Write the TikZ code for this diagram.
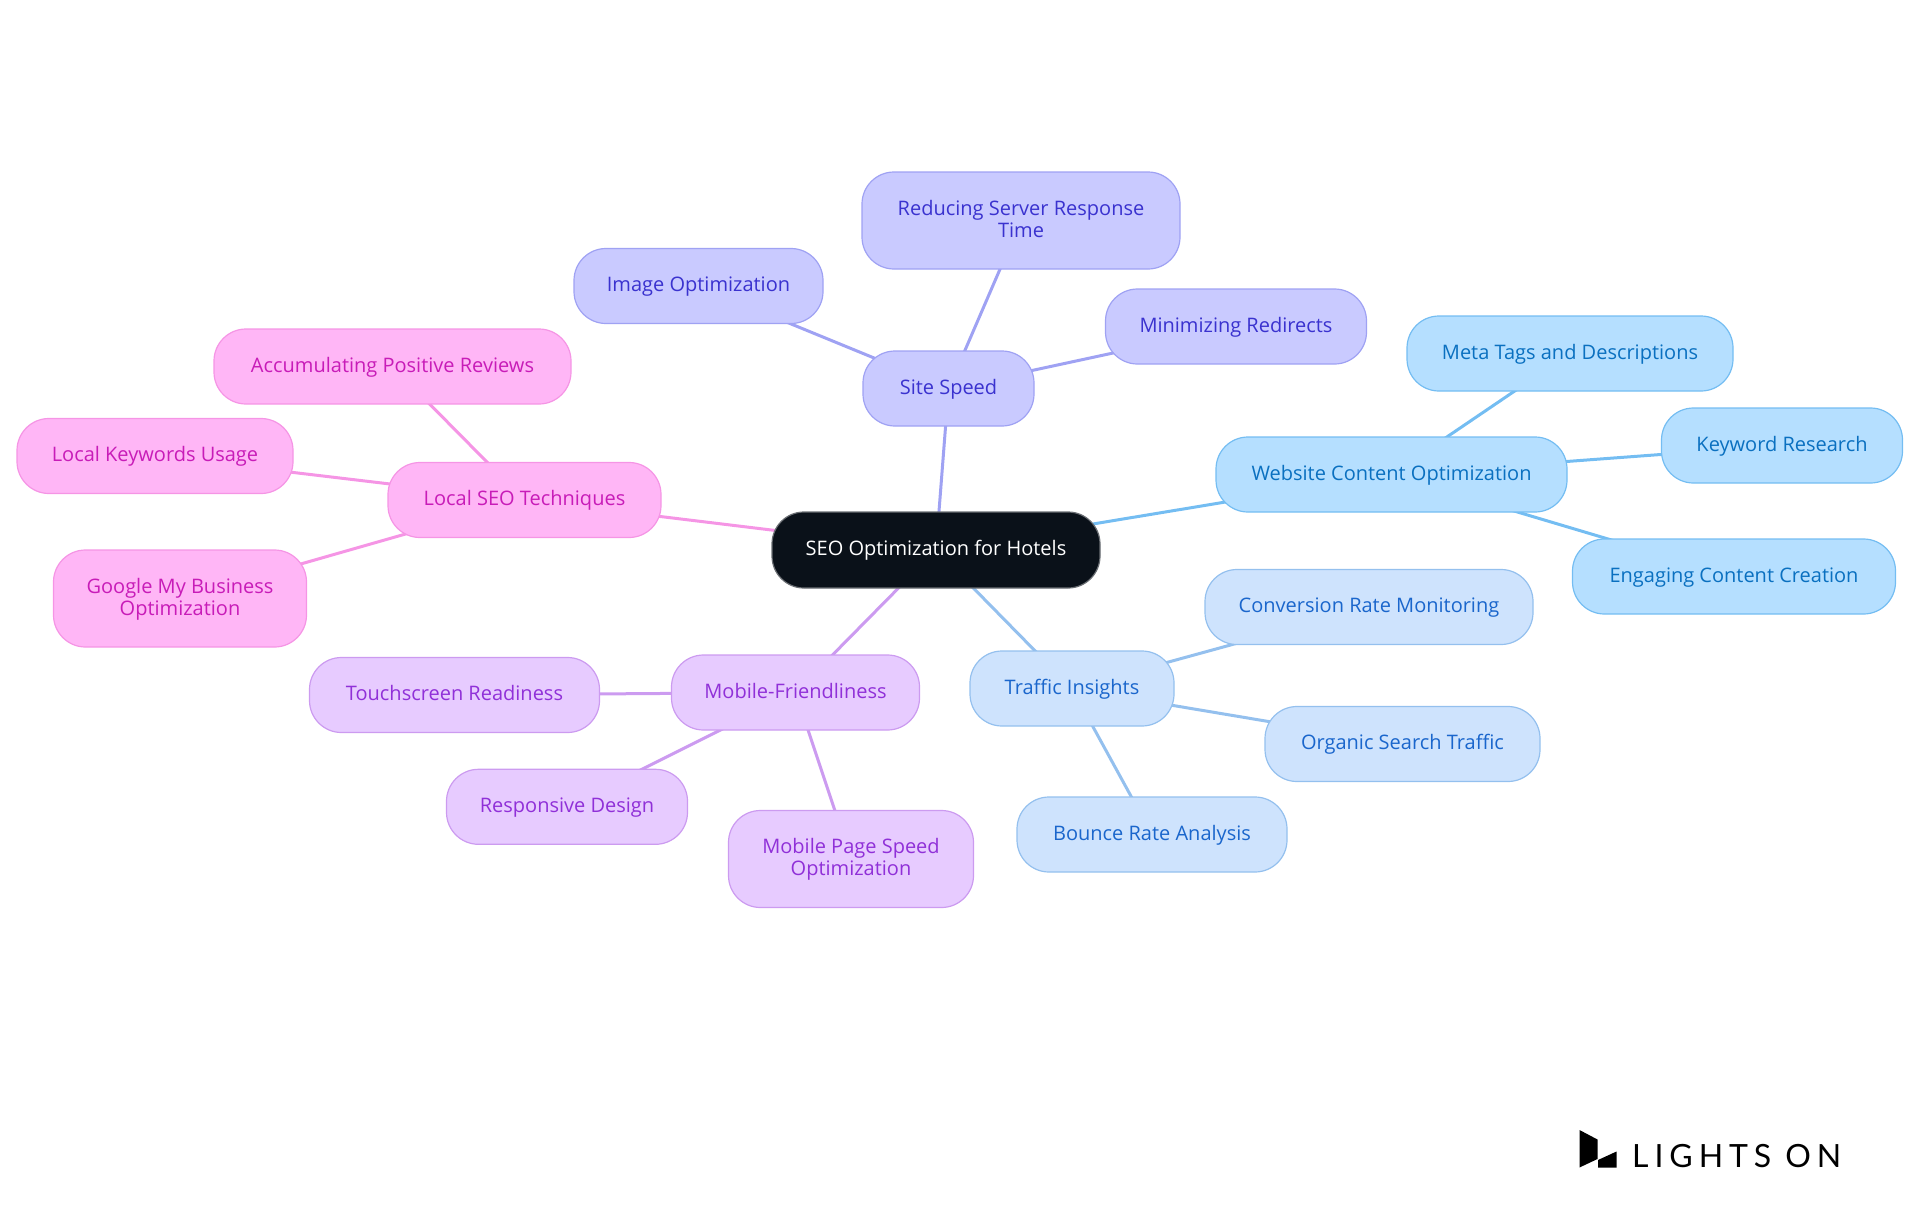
\documentclass[tikz,border=0pt]{standalone}
\usepackage{fontspec}
\setmainfont{Open Sans}
\newfontfamily\logofont[LetterSpace=18.5]{Lato}
\usetikzlibrary{backgrounds}

\definecolor{rootfill}{HTML}{0A1119}
\definecolor{rootline}{HTML}{6A6E73}
\definecolor{speedfill}{HTML}{C9CAFF}
\definecolor{speedline}{HTML}{9FA2F3}
\definecolor{speedtext}{HTML}{3A32CF}
\definecolor{contentfill}{HTML}{B5DFFF}
\definecolor{contentline}{HTML}{74BDF2}
\definecolor{contenttext}{HTML}{0A70C0}
\definecolor{trafficfill}{HTML}{CEE3FD}
\definecolor{trafficline}{HTML}{94C0EE}
\definecolor{traffictext}{HTML}{1A66CC}
\definecolor{mobilefill}{HTML}{E7CBFF}
\definecolor{mobileline}{HTML}{CC9BF0}
\definecolor{mobiletext}{HTML}{9030D8}
\definecolor{localfill}{HTML}{FFB6F6}
\definecolor{localline}{HTML}{F595E5}
\definecolor{localtext}{HTML}{C81CB8}

\begin{document}
\begin{tikzpicture}[x=1pt,y=-1pt]
    \tikzstyle{topic}=[rectangle,rounded corners=32pt,inner sep=0pt,line width=1.2pt,align=center,
        text height=15.5pt,text depth=4.5pt,minimum height=75pt,font=\fontsize{20}{22}\selectfont]
    \tikzstyle{tall}=[text height=37.5pt,minimum height=97pt]
    \tikzstyle{root topic}=[topic,fill=rootfill,draw=rootline,text=white]
    \tikzstyle{speed topic}=[topic,fill=speedfill,draw=speedline,text=speedtext]
    \tikzstyle{content topic}=[topic,fill=contentfill,draw=contentline,text=contenttext]
    \tikzstyle{traffic topic}=[topic,fill=trafficfill,draw=trafficline,text=traffictext]
    \tikzstyle{mobile topic}=[topic,fill=mobilefill,draw=mobileline,text=mobiletext]
    \tikzstyle{local topic}=[topic,fill=localfill,draw=localline,text=localtext]
    \tikzstyle{link}=[line width=3pt]

    \useasboundingbox (0,0) rectangle (1920,1215);

    % Draw the central node
    \node[root topic,minimum width=328pt,minimum height=76pt] (R) at (936,550) {SEO Optimization for Hotels};

    % Draw the site speed branch
    \foreach \name/\x/\y/\w/\txt in {
        S-0/948.5/388.5/171/{Site Speed},
        S-2/698.5/286/249/{Image Optimization},
        S-3/1236/326.5/261/{Minimizing Redirects}}
        \node[speed topic,minimum width=\w pt] (\name) at (\x,\y) {\txt};
    \node[speed topic,tall,minimum width=318pt] (S-1) at (1021,220.5) {Reducing Server Response\\Time};

    % Draw the content branch
    \foreach \name/\x/\y/\w/\txt in {
        C-0/1391.5/474.5/351/{Website Content Optimization},
        C-1/1570/353.5/326/{Meta Tags and Descriptions},
        C-2/1782/445.5/241/{Keyword Research},
        C-3/1734/576.5/323/{Engaging Content Creation}}
        \node[content topic,minimum width=\w pt] (\name) at (\x,\y) {\txt};

    % Draw the traffic branch
    \foreach \name/\x/\y/\w/\txt in {
        T-0/1072/688.5/204/{Traffic Insights},
        T-1/1369/607/328/{Conversion Rate Monitoring},
        T-2/1402.5/744/275/{Organic Search Traffic},
        T-3/1152/834.5/270/{Bounce Rate Analysis}}
        \node[traffic topic,minimum width=\w pt] (\name) at (\x,\y) {\txt};

    % Draw the mobile branch
    \foreach \name/\x/\y/\w/\txt in {
        M-0/795.5/692.5/248/{Mobile-Friendliness},
        M-1/454.5/695/290/{Touchscreen Readiness},
        M-2/567/806.8/241/{Responsive Design}}
        \node[mobile topic,minimum width=\w pt] (\name) at (\x,\y) {\txt};
    \node[mobile topic,tall,minimum width=245pt] (M-3) at (851,859) {Mobile Page Speed\\Optimization};

    % Draw the local branch
    \foreach \name/\x/\y/\w/\txt in {
        L-0/524.5/500/273/{Local SEO Techniques},
        L-1/392.5/366.5/357/{Accumulating Positive Reviews},
        L-2/155/456/276/{Local Keywords Usage}}
        \node[local topic,minimum width=\w pt] (\name) at (\x,\y) {\txt};
    \node[local topic,tall,minimum width=253pt] (L-3) at (180,598.5) {Google My Business\\Optimization};

    % Connect every branch with its leaves, behind the nodes
    \begin{scope}[on background layer]
        \foreach \branch/\col in {S/speedline,C/contentline,T/trafficline,M/mobileline,L/localline} {
            \draw[link,\col] (R.center) -- (\branch-0.center);
            \foreach \dest in {1,...,3}
                \draw[link,\col] (\branch-0.center) -- (\branch-\dest.center);
        }
    \end{scope}

    % The logo
    \fill[black] (1579.5,1130) -- (1597.5,1139.5) -- (1597.5,1159) -- (1579.5,1167.5) -- cycle;
    \fill[black] (1598,1167.5) -- (1598,1160) -- (1616.5,1151.5) -- (1616.5,1167.5) -- cycle;
    \node[anchor=base west,inner sep=0pt,font=\logofont\fontsize{32}{32}\selectfont] (logo) at (1632,1167) {LIGHTS ON};
\end{tikzpicture}
\end{document}
